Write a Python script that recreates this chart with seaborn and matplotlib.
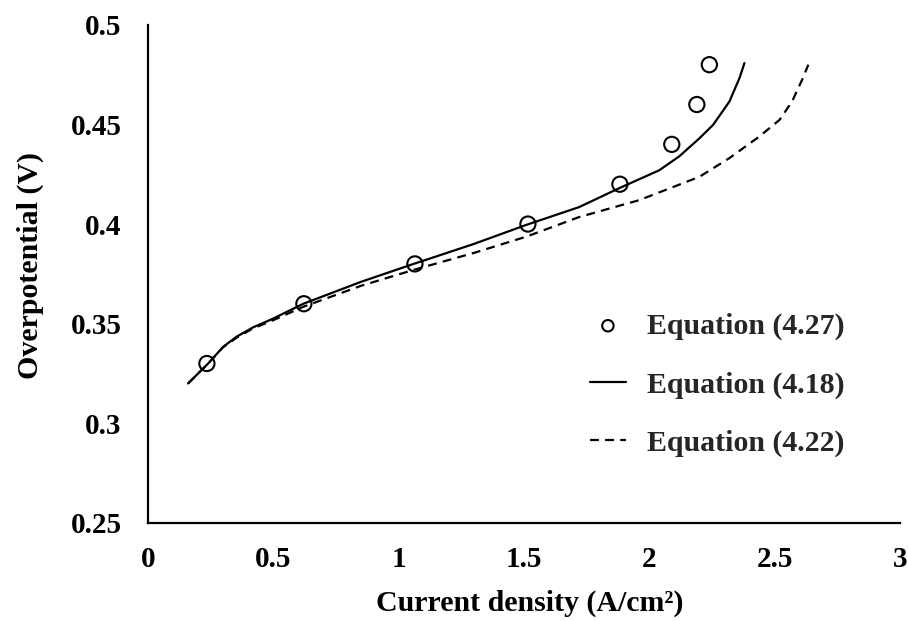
import matplotlib
matplotlib.use("Agg")
import matplotlib.pyplot as plt
import seaborn as sns
import pandas as pd

# Data
exp_x = [0.235, 0.622, 1.065, 1.516, 1.883, 2.09, 2.19, 2.24]
exp_y = [0.330, 0.360, 0.380, 0.400, 0.420, 0.440, 0.460, 0.480]

eq418_x = [0.16, 0.24, 0.30, 0.354, 0.42, 0.49, 0.62, 0.85, 1.06, 1.30, 1.51,
           1.72, 1.88, 2.04, 2.12, 2.20, 2.255, 2.32, 2.36, 2.38]
eq418_y = [0.320, 0.330, 0.3384, 0.3435, 0.3482, 0.352, 0.360, 0.371, 0.380,
           0.390, 0.3996, 0.4085, 0.418, 0.427, 0.434, 0.443, 0.4498, 0.4615,
           0.4732, 0.4808]

eq422_x = [0.16, 0.24, 0.30, 0.354, 0.42, 0.49, 0.62, 0.85, 1.06, 1.30, 1.51,
           1.72, 1.96, 2.20, 2.32, 2.44, 2.52, 2.57, 2.61, 2.635]
eq422_y = [0.320, 0.330, 0.3382, 0.343, 0.3477, 0.3512, 0.3585, 0.369, 0.377,
           0.3855, 0.3937, 0.4035, 0.412, 0.4237, 0.4331, 0.444, 0.4523,
           0.4615, 0.4724, 0.480]

labels = ["Equation (4.27)", "Equation (4.18)", "Equation (4.22)"]
x_ticks = [0, 0.5, 1, 1.5, 2, 2.5, 3]
x_tick_labels = ["0", "0.5", "1", "1.5", "2", "2.5", "3"]
y_ticks = [0.25, 0.3, 0.35, 0.4, 0.45, 0.5]
y_tick_labels = ["0.25", "0.3", "0.35", "0.4", "0.45", "0.5"]

sns.set_theme(style="white")
plt.rcParams["font.family"] = ["Liberation Serif", "DejaVu Serif"]
plt.rcParams["font.weight"] = "bold"

fig = plt.figure(figsize=(9.08, 6.21), dpi=100)
ax = fig.add_axes([0.163, 0.158, 0.828, 0.802])

df418 = pd.DataFrame({"x": eq418_x, "y": eq418_y})
df422 = pd.DataFrame({"x": eq422_x, "y": eq422_y})
dfexp = pd.DataFrame({"x": exp_x, "y": exp_y})

sns.lineplot(data=df418, x="x", y="y", ax=ax, color="black", linewidth=1.6,
             label=labels[1], sort=True)
sns.lineplot(data=df422, x="x", y="y", ax=ax, color="black", linewidth=1.6,
             linestyle=(0, (4, 2.8)), label=labels[2], sort=True)
sns.scatterplot(data=dfexp, x="x", y="y", ax=ax, marker="o", s=120,
                facecolor="none", edgecolor="black", linewidth=1.5,
                label=labels[0], zorder=5)

ax.set_xlim(0, 3)
ax.set_ylim(0.25, 0.5)
ax.set_xticks(x_ticks)
ax.set_xticklabels(x_tick_labels)
ax.set_yticks(y_ticks)
ax.set_yticklabels(y_tick_labels)
ax.tick_params(axis="x", length=0, labelsize=21, pad=17, colors="black")
ax.tick_params(axis="y", length=0, labelsize=21, pad=19, colors="black")
for lab in ax.get_xticklabels() + ax.get_yticklabels():
    lab.set_fontweight("bold")

ax.set_xlabel("Current density (A/cm²)", fontsize=21.5, fontweight="bold",
              color="black")
ax.set_ylabel("Overpotential (V)", fontsize=21.5, fontweight="bold",
              color="black")
ax.xaxis.set_label_coords(0.508, -0.1345)
ax.yaxis.set_label_coords(-0.139, 0.516)

for side in ["top", "right"]:
    ax.spines[side].set_visible(False)
for side in ["left", "bottom"]:
    ax.spines[side].set_color("black")
    ax.spines[side].set_linewidth(1.6)

handles, labs = ax.get_legend_handles_labels()
order = [labs.index(l) for l in labels]
leg = ax.legend([handles[i] for i in order], [labs[i] for i in order],
                loc="center left", bbox_to_anchor=(0.572, 0.277), frameon=False,
                prop={"family": "Liberation Serif", "weight": "bold", "size": 21.5},
                labelspacing=1.05, handlelength=1.2, handletextpad=0.7,
                borderpad=0.4, borderaxespad=0, markerscale=0.75)

fig.savefig("out.png", dpi=100, facecolor="white")
